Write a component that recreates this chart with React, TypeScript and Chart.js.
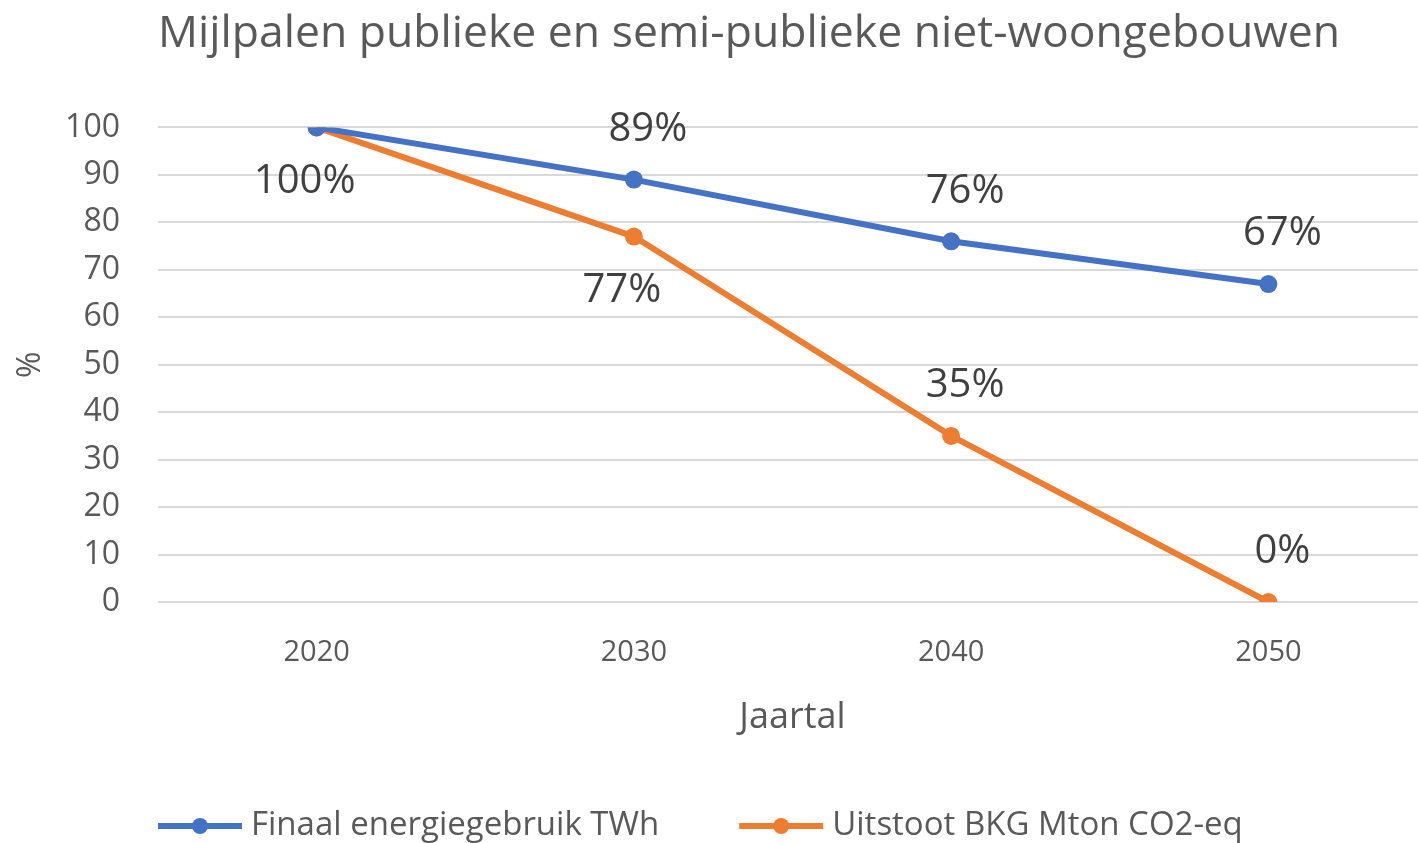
import React, { useEffect, useRef } from "react";
import { Chart, registerables } from "chart.js";

Chart.register(...registerables);

const years = ["2020", "2030", "2040", "2050"];
const energyValues = [100, 89, 76, 67];
const emissionValues = [100, 77, 35, 0];
const seriesNames = ["Finaal energiegebruik TWh", "Uitstoot BKG Mton CO2-eq"];
const chartTitle = "Mijlpalen publieke en semi-publieke niet-woongebouwen";
const xAxisTitle = "Jaartal";
const yAxisTitle = "%";
const labelPlacement = [
  ["none", "above", "above", "above"],
  ["below", "below", "above", "above"],
];

const FONT = "'Open Sans', sans-serif";
const TEXT = "#595959";
const BLUE = "#4472C4";
const ORANGE = "#ED7D31";

const dataLabelPlugin = {
  id: "dataLabels",
  afterDatasetsDraw(chart: any) {
    const ctx = chart.ctx;
    ctx.save();
    ctx.font = `40px ${FONT}`;
    ctx.fillStyle = "#404040";
    ctx.textAlign = "center";
    ctx.textBaseline = "middle";
    chart.data.datasets.forEach((ds: any, di: number) => {
      const meta = chart.getDatasetMeta(di);
      meta.data.forEach((pt: any, i: number) => {
        const place = labelPlacement[di][i];
        if (place === "none") return;
        const dx = place === "above" ? 14 : -12;
        const dy = place === "above" ? -50 : 54;
        ctx.fillText(`${ds.data[i]}%`, pt.x + dx, pt.y + dy);
      });
    });
    ctx.restore();
  },
};

const legendPlugin = {
  id: "lineLegend",
  afterDraw(chart: any) {
    const ctx = chart.ctx;
    const y = chart.height - 17;
    let x = chart.chartArea.left;
    ctx.save();
    ctx.font = `33px ${FONT}`;
    ctx.textBaseline = "middle";
    ctx.textAlign = "left";
    chart.data.datasets.forEach((ds: any) => {
      ctx.strokeStyle = ds.borderColor;
      ctx.lineWidth = 6;
      ctx.beginPath();
      ctx.moveTo(x, y);
      ctx.lineTo(x + 84, y);
      ctx.stroke();
      ctx.fillStyle = ds.borderColor;
      ctx.beginPath();
      ctx.arc(x + 42, y, 8, 0, Math.PI * 2);
      ctx.fill();
      ctx.fillStyle = TEXT;
      ctx.fillText(ds.label, x + 93, y);
      x += 93 + ctx.measureText(ds.label).width + 80;
    });
    ctx.restore();
  },
};

export default function App() {
  const ref = useRef<HTMLCanvasElement>(null);
  useEffect(() => {
    if (!ref.current) return;
    const chart = new Chart(ref.current, {
      type: "line",
      data: {
        labels: years,
        datasets: [
          {
            label: seriesNames[0],
            data: energyValues,
            borderColor: BLUE,
            backgroundColor: BLUE,
            borderWidth: 6,
            pointRadius: 9,
            pointBorderWidth: 0,
            pointBackgroundColor: BLUE,
            tension: 0,
          },
          {
            label: seriesNames[1],
            data: emissionValues,
            borderColor: ORANGE,
            backgroundColor: ORANGE,
            borderWidth: 6,
            pointRadius: 9,
            pointBorderWidth: 0,
            pointBackgroundColor: ORANGE,
            tension: 0,
          },
        ],
      },
      options: {
        responsive: false,
        animation: false,
        layout: { padding: { left: 8, right: 2, top: 0, bottom: 104 } },
        plugins: {
          legend: { display: false },
          tooltip: { enabled: false },
          title: {
            display: true,
            text: chartTitle,
            align: "start",
            fullSize: false,
            color: TEXT,
            font: { family: FONT, size: 44.5, weight: "normal" },
            padding: { top: 8, bottom: 66 },
          },
        },
        scales: {
          x: {
            offset: true,
            grid: { display: false },
            border: { display: false },
            ticks: { color: TEXT, font: { family: FONT, size: 29 }, padding: 25 },
            title: {
              display: true,
              text: xAxisTitle,
              color: TEXT,
              font: { family: FONT, size: 36 },
              padding: { top: 6, bottom: 0 },
            },
            afterFit(s: any) {
              s.height = 137;
            },
          },
          y: {
            min: 0,
            max: 100,
            grid: { color: "#d9d9d9", lineWidth: 2, drawTicks: false },
            border: { display: false },
            ticks: { stepSize: 10, color: TEXT, font: { family: FONT, size: 32 }, padding: 38 },
            title: {
              display: true,
              text: yAxisTitle,
              color: TEXT,
              font: { family: FONT, size: 32 },
              padding: { top: 4, bottom: 0 },
            },
            afterFit(s: any) {
              s.width = 150;
            },
          },
        },
      },
      plugins: [dataLabelPlugin, legendPlugin],
    });
    return () => chart.destroy();
  }, []);

  return (
    <div
      style={{
        position: "fixed",
        left: 0,
        top: 0,
        width: 1418,
        height: 843,
        overflow: "hidden",
        background: "#fff",
      }}
    >
      <canvas ref={ref} width={1436} height={843} style={{ display: "block" }} />
    </div>
  );
}
